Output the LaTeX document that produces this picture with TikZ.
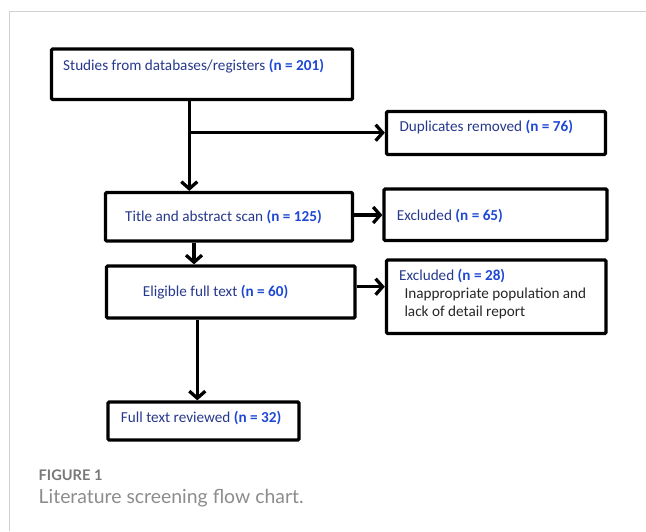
\documentclass[tikz,border=0pt]{standalone}
\usepackage{fontspec}
\usetikzlibrary{arrows.meta}
\newfontfamily\boxfont{Carlito}
\newfontfamily\capfont{Lato}
\definecolor{navy}{RGB}{38,56,140}
\definecolor{nblue}{RGB}{30,72,212}
\definecolor{frame}{RGB}{208,208,208}
\definecolor{capgray}{RGB}{120,120,120}
\definecolor{capgray2}{RGB}{140,140,140}
\tikzset{
  box/.style={draw=black, line width=3.3pt, rounded corners=1.2pt, inner sep=0pt},
  flow/.style={line width=3.3pt, -{Straight Barb[length=7pt,width=16pt]}},
  txt/.style={anchor=west, inner sep=0pt, text=navy, font=\boxfont\fontsize{15.2}{18}\selectfont},
  blk/.style={anchor=west, inner sep=0pt, text=black!85, font=\boxfont\fontsize{15.2}{18}\selectfont},
}
\newcommand{\nn}[1]{\textcolor{nblue}{\bfseries #1}}
\begin{document}
\begin{tikzpicture}[x=1pt,y=-1pt]
\useasboundingbox (0,0) rectangle (646,531);
% frame
\draw[frame, line width=1pt] (646,11.5) -- (9,11.5) -- (9,531);
% boxes
\node[box, minimum width=301pt, minimum height=50.5pt] (b1) at (202,74.2) {};
\node[box, minimum width=219pt, minimum height=43pt] (dup) at (496,133) {};
\node[box, minimum width=247pt, minimum height=48.5pt] (title) at (229,216.8) {};
\node[box, minimum width=223pt, minimum height=51.5pt] (ex65) at (495.5,214.8) {};
\node[box, minimum width=248.5pt, minimum height=52pt] (elig) at (230.8,292) {};
\node[box, minimum width=219.5pt, minimum height=73.5pt] (ex28) at (496.2,296.8) {};
\node[box, minimum width=191pt, minimum height=38pt] (full) at (203.5,421) {};
% texts
\node[txt] (t1) at (63,66) {Studies from databases/registers \nn{(n = 201)}};
\node[txt] (tdup) at (399.3,126.7) {Duplicates removed \nn{(n = 76)}};
\node[txt] (ttitle) at (125,217) {Title and abstract scan \nn{(n = 125)}};
\node[txt] (t65) at (396.7,215.7) {Excluded \nn{(n = 65)}};
\node[txt] (telig) at (142.7,292.3) {Eligible full text \nn{(n = 60)}};
\node[txt] (t28) at (399,276) {Excluded \nn{(n = 28)}};
\node[blk] (t28b) at (404.3,294.3) {Inappropriate population and};
\node[blk] (t28c) at (404.3,312.7) {lack of detail report};
\node[txt] (tfull) at (120.7,417.7) {Full text reviewed \nn{(n = 32)}};
% connectors
\coordinate (br) at (189.3,132.7);
\draw[line width=3.3pt] (b1.south -| br) -- (br);
\draw[flow] (br) -- (title.north -| br);
\draw[flow] (br) -- (dup.west |- br);
\draw[flow] (title.east |- 0,215) -- (ex65.west |- 0,215);
\draw[flow] (title.south -| 194,0) -- (elig.north -| 194,0);
\draw[flow] (elig.east |- 0,286.7) -- (ex28.west |- 0,286.7);
\draw[flow] (elig.south -| 197.3,0) -- (full.north -| 197.3,0);
% caption
\node[anchor=west, inner sep=0pt, text=capgray, font=\capfont\bfseries\fontsize{14.6}{17}\selectfont] (fig) at (38.5,475) {FIGURE 1};
\node[anchor=west, inner sep=0pt, text=capgray2, font=\capfont\fontsize{19.4}{23}\selectfont] (cap) at (38.5,498) {Literature screening flow chart.};
\end{tikzpicture}
\end{document}
